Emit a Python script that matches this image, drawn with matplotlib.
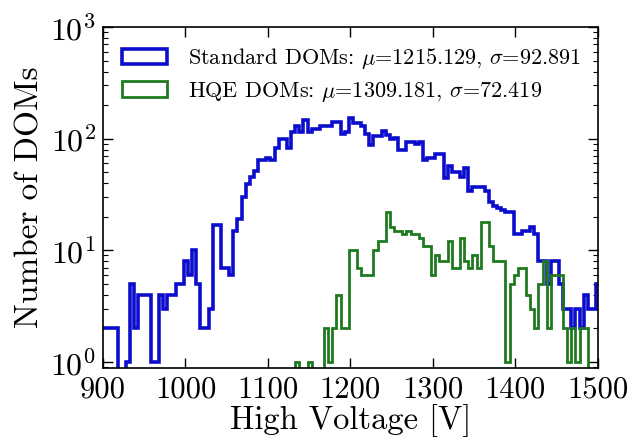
import numpy as np
import matplotlib
matplotlib.use("Agg")
import matplotlib.pyplot as plt

# ---- data ----
bin_edges = np.arange(898, 1504, 5)  # 5 V bins

standard_counts = [
    2, 2, 2, 2, 0, 0, 1, 5, 2, 4,            # k0-9
    4, 4, 1, 1, 4, 3, 4, 4, 5, 5,            # k10-19
    8, 6, 10, 5, 2, 2, 3, 17, 17, 7,         # k20-29
    7, 6, 15, 19, 30, 39, 45, 51, 64, 64,    # k30-39
    67, 64, 83, 100, 100, 83, 115, 129, 115, 147,   # k40-49
    115, 122, 122, 129, 129, 130, 141, 141, 110, 115,  # k50-59
    152, 138, 138, 129, 110, 88, 106, 106, 118, 107,   # k60-69
    100, 101, 80, 80, 94, 94, 89, 94, 64, 67,          # k70-79
    67, 73, 73, 44, 57, 50, 50, 45, 55, 34,            # k80-89
    37, 37, 37, 34, 27, 25, 24, 23, 22, 22,            # k90-99
    14, 14, 15, 15, 16, 14, 8, 8, 5, 8,                # k100-109
    8, 5, 3, 3, 2, 3, 2, 4, 3, 3,                      # k110-119
    5,                                                 # k120
]

hqe_counts = [0] * 47 + [
    1, 0, 0, 1, 0, 0, 0, 2, 1, 2,            # k47-56
    4, 2, 2, 10, 10, 7, 6, 6, 6, 10,         # k57-66
    12, 12, 22, 16, 15, 15, 14, 15, 14, 14,  # k67-76
    13, 11, 11, 6, 9, 8, 8, 12, 7, 7,        # k77-86
    13, 8, 7, 9, 7, 18, 18, 11, 8, 8,        # k87-96
    8, 1, 5, 6, 7, 7, 4, 3, 2, 5,            # k97-106
    8, 2, 6, 6, 6, 2, 1, 2, 1, 2,            # k107-116
    2, 0, 0, 0,                              # k117-120
]

labels = [r"Standard DOMs: $\mu$=1215.129, $\sigma$=92.891",
          r"HQE DOMs: $\mu$=1309.181, $\sigma$=72.419"]
colors = ["#0c0ccc", "#1f7a1f"]
x_ticks = [900, 1000, 1100, 1200, 1300, 1400, 1500]

# ---- style ----
plt.rcParams.update({
    "font.family": "serif",
    "font.serif": ["cmr10", "DejaVu Serif"],
    "mathtext.fontset": "cm",
    "axes.unicode_minus": False,
    "axes.formatter.use_mathtext": True,
})

fig = plt.figure(figsize=(6.4, 4.45), dpi=100)
ax = fig.add_axes([0.161, 0.173, 0.773, 0.766])

centers = (bin_edges[:-1] + bin_edges[1:]) / 2
ax.hist(centers, bins=bin_edges, weights=standard_counts, histtype="step",
        color=colors[0], linewidth=2.6, label=labels[0])
ax.hist(centers, bins=bin_edges, weights=hqe_counts, histtype="step",
        color=colors[1], linewidth=2.0, label=labels[1])

ax.set_yscale("log")
ax.set_xlim(900, 1500)
ax.set_ylim(0.88, 1000)
ax.set_xticks(x_ticks)
ax.set_xticklabels([str(t) for t in x_ticks])

ax.tick_params(which="both", direction="in", top=True, right=True)
ax.tick_params(which="major", length=7, width=1.0)
ax.tick_params(which="minor", length=3.5, width=0.8)
ax.tick_params(axis="x", pad=6, labelsize=22)
ax.tick_params(axis="y", pad=5, labelsize=23)
for s in ax.spines.values():
    s.set_linewidth(1.2)

ax.set_xlabel("High Voltage [V]", fontsize=23.5, labelpad=0)
ax.set_ylabel("Number of DOMs", fontsize=24, labelpad=4)

leg = ax.legend(loc="upper left", frameon=False, fontsize=16,
                handlelength=2.05, handleheight=0.72, handletextpad=0.95,
                labelspacing=0.4, borderaxespad=0.0,
                bbox_to_anchor=(0.02, 0.97))

fig.savefig("out.png", dpi=100)
